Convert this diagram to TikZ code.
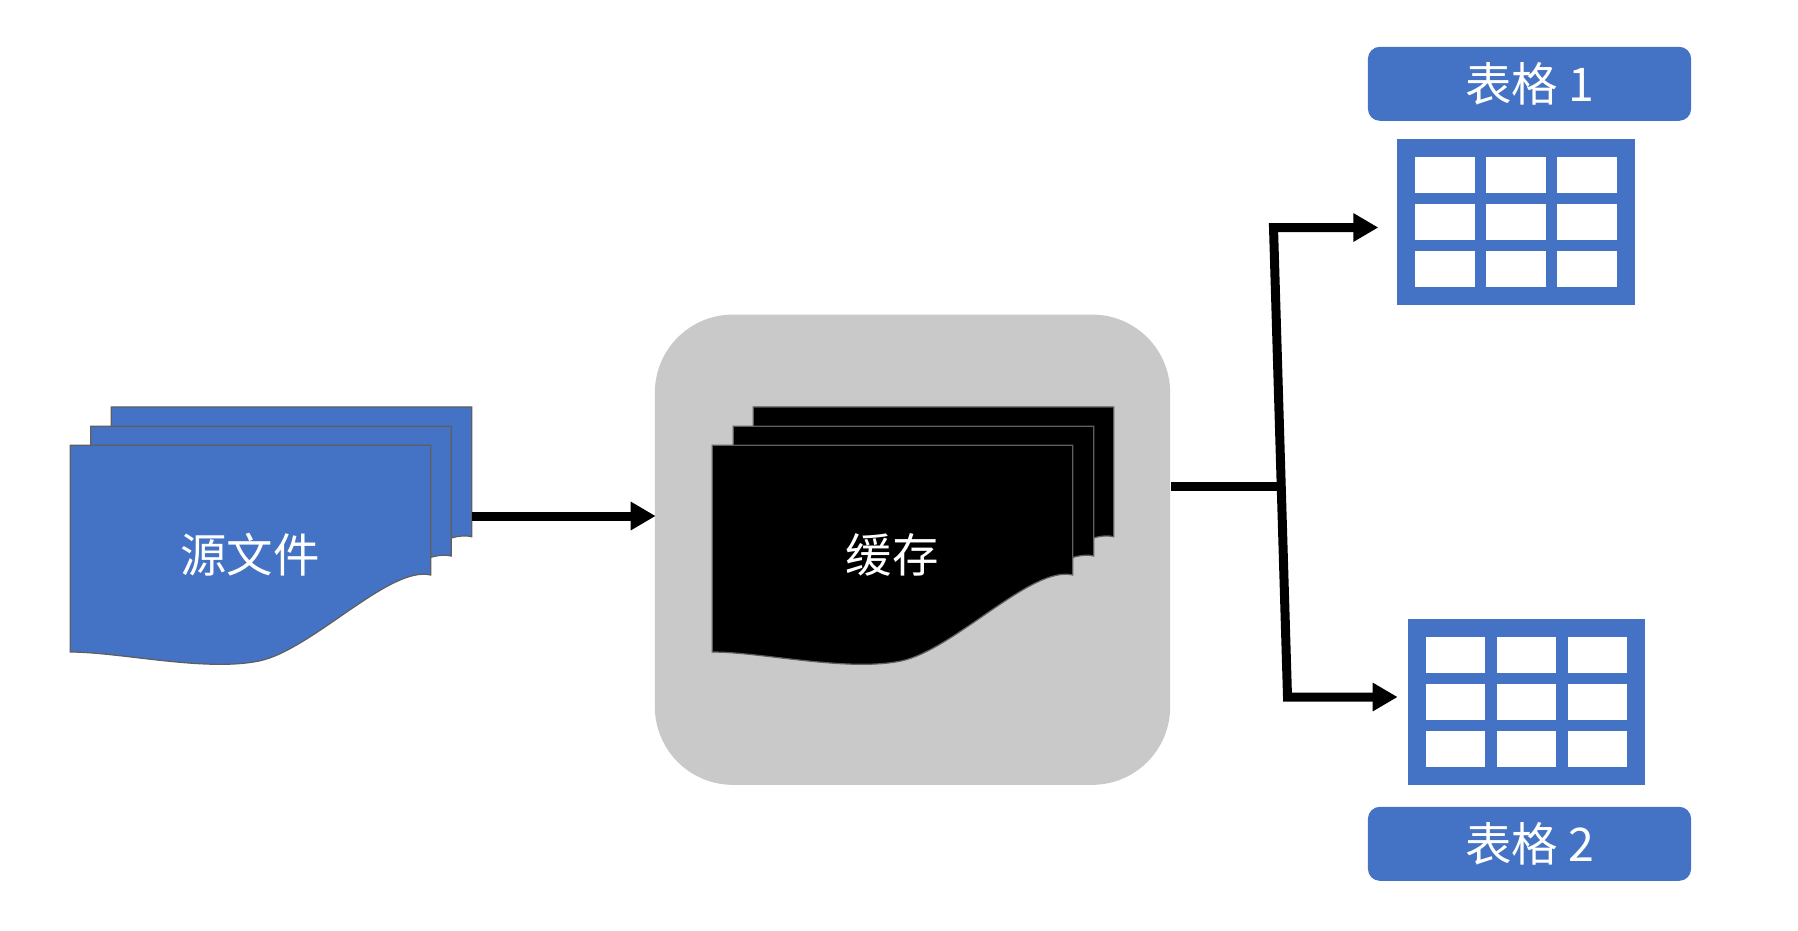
\documentclass[tikz,border=0pt]{standalone}
\usepackage{fontspec}
\usetikzlibrary{arrows.meta,calc}
\newfontfamily\cjk{Noto Sans CJK SC}
\definecolor{sheetblue}{HTML}{4472C4}
\definecolor{cachegray}{HTML}{C9C9C9}
\definecolor{sheetedge}{HTML}{5F5F5F}

\tikzset{
  sheet/.style={draw=sheetedge,line width=0.35pt},
  flow/.style={line width=0.9mm,>={Triangle[length=2.5mm,width=2.7mm]}},
  tablebox/.style={fill=sheetblue,minimum width=2.37cm,minimum height=1.66cm,inner sep=0pt},
  tabletitle/.style={fill=sheetblue,rounded corners=1.2mm,minimum width=3.23cm,minimum height=0.74cm,inner sep=0pt},
  caption/.style={font=\cjk\fontsize{13.2pt}{15pt}\selectfont,text=white}
}

% one wavy sheet, shifted from the front sheet of the source stack
\newcommand{\wavesheet}[3]{
  \path[sheet,fill=#3] (70.3+#1,652+#2) -- (70.3+#1,445.2+#2) -- (430.7+#1,445.2+#2) -- (430.7+#1,575+#2)
    .. controls (390+#1,565+#2) and (312+#1,650+#2) .. (259+#1,661+#2)
    .. controls (205+#1,672+#2) and (120+#1,652+#2) .. (70.3+#1,652+#2) -- cycle;
}

% white cells of a table
\newcommand{\tablecells}[1]{
  \foreach \cx in {-100.8,-29.6,41.2}{
    \foreach \cy in {-64.8,-17.8,29.5}{
      \fill[white] ($(#1)+(\cx,\cy)$) rectangle +(59.4,35.6);
    }
  }
}

\begin{document}
\begin{tikzpicture}[x=0.01cm,y=-0.01cm]
\useasboundingbox (0,0) rectangle (1798,930);

% Source stack
\wavesheet{41}{-38.3}{sheetblue}
\wavesheet{20.5}{-19}{sheetblue}
\wavesheet{0}{0}{sheetblue}
\node[caption] (source) at (250,555) {源文件};
\coordinate (sourceout) at (471.5,516);

% Cache
\node[fill=cachegray,rounded corners=7.8mm,minimum width=5.15cm,minimum height=4.7cm,inner sep=0pt] (cache) at (912.5,549.7) {};
\wavesheet{683}{-38.3}{black}
\wavesheet{663}{-19}{black}
\wavesheet{642}{0}{black}
\node[caption] (cachetext) at (892,555) {缓存};

% Tables
\node[tablebox] (table1) at (1516,221.8) {};
\node[tablebox] (table2) at (1526.5,701.8) {};
\tablecells{table1}
\tablecells{table2}
\node[tabletitle,caption] (title1) at (1529.5,83.8) {\raisebox{-2.2pt}{表格 1}};
\node[tabletitle,caption] (title2) at (1529.5,843.8) {\raisebox{-1.8pt}{表格 2}};

% Connectors
\coordinate (junction) at (1281,486);
\coordinate (elbowtop) at (1273.5,227.5);
\coordinate (elbowbot) at (1287.5,697);
\coordinate (toptip) at (1378.3,227.5);
\coordinate (bottip) at (1397.6,697);
\draw[flow,->,shorten >=-0.15mm] (sourceout) -- (sourceout -| cache.west);
\draw[flow] (cache.east |- junction) -- (junction);
\draw[flow,<->] (toptip) -- (elbowtop) -- (elbowbot) -- (bottip);

\end{tikzpicture}
\end{document}
